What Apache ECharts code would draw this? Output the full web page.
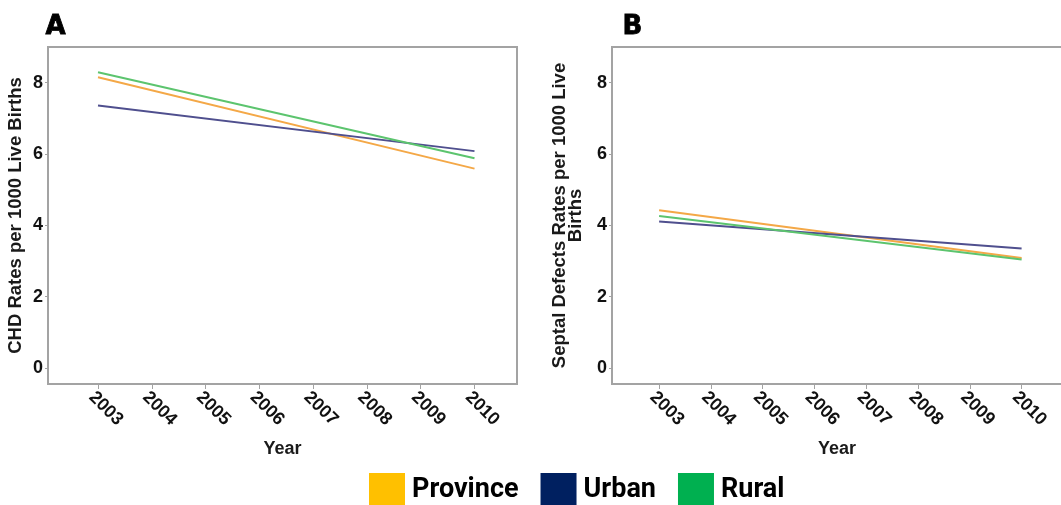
<!DOCTYPE html>
<html>
<head>
<meta charset="utf-8">
<script src="https://cdn.jsdelivr.net/npm/echarts@6/dist/echarts.min.js"></script>
<style>
  html, body { margin: 0; padding: 0; background: #ffffff; }
  #chart { width: 1061px; height: 505px; }
</style>
</head>
<body>
<div id="chart"></div>
<script>
// Fitted trend lines, endpoints at the first and last study year
const fitYears = [2003, 2010];
const yearTicks = [2003, 2004, 2005, 2006, 2007, 2008, 2009, 2010];
const rateTicks = [0, 2, 4, 6, 8];

const seriesNames = ['Province', 'Urban', 'Rural'];

// Panel A: CHD rates per 1000 live births
const chdProvince = [8.15, 5.59];
const chdUrban = [7.36, 6.08];
const chdRural = [8.29, 5.88];

// Panel B: septal defects rates per 1000 live births
const septalProvince = [4.42, 3.08];
const septalUrban = [4.11, 3.35];
const septalRural = [4.26, 3.04];

const lineColors = { Province: '#F4A847', Urban: '#4F4F8E', Rural: '#5CC46E' };
const legendColors = { Province: '#FFC000', Urban: '#002060', Rural: '#00B050' };

const labelFont = 'Liberation Sans, Arial, sans-serif';
const frameColor = '#a3a3a3';

function pairs(xs, ys) {
  return xs.map((x, i) => [x, ys[i]]);
}

function xAxisFor(gridIndex, min, max) {
  return {
    type: 'value',
    gridIndex: gridIndex,
    min: min,
    max: max,
    name: 'Year',
    nameLocation: 'middle',
    nameGap: 56,
    nameMoveOverlap: false,
    nameTextStyle: { fontFamily: labelFont, fontWeight: 'bold', fontSize: 18, color: '#1a1a1a' },
    axisLine: { show: false, onZero: false },
    splitLine: { show: false },
    axisTick: { show: true, length: 5, customValues: yearTicks, lineStyle: { color: frameColor, width: 1 } },
    axisLabel: {
      customValues: yearTicks,
      rotate: -45,
      margin: 4,
      align: 'left',
      verticalAlign: 'top',
      fontFamily: labelFont,
      fontWeight: 'bold',
      fontSize: 18,
      color: '#111',
      formatter: v => String(v)
    }
  };
}

function yAxisFor(gridIndex, name, nameGap) {
  return {
    type: 'value',
    gridIndex: gridIndex,
    min: -0.45,
    max: 9,
    name: name,
    nameLocation: 'middle',
    nameRotate: 90,
    nameGap: nameGap,
    nameMoveOverlap: false,
    nameTextStyle: { fontFamily: labelFont, fontWeight: 'bold', fontSize: 18.5, color: '#1a1a1a', lineHeight: 16, align: 'center' },
    axisLine: { show: false, onZero: false },
    splitLine: { show: false },
    axisTick: { show: true, length: 3, customValues: rateTicks, lineStyle: { color: frameColor, width: 1 } },
    axisLabel: {
      customValues: rateTicks,
      margin: 5,
      fontFamily: labelFont,
      fontWeight: 'bold',
      fontSize: 18,
      color: '#111'
    }
  };
}

function lineSeries(name, axisIndex, values) {
  return {
    name: name,
    type: 'line',
    xAxisIndex: axisIndex,
    yAxisIndex: axisIndex,
    data: pairs(fitYears, values),
    showSymbol: false,
    symbol: 'none',
    silent: true,
    color: lineColors[name],
    lineStyle: { color: lineColors[name], width: 2 }
  };
}

const gridBase = {
  top: 47,
  height: 337,
  show: true,
  borderColor: frameColor,
  borderWidth: 2,
  backgroundColor: 'transparent',
  outerBoundsMode: 'none',
  containLabel: false
};

const option = {
  backgroundColor: '#ffffff',
  animation: false,
  grid: [
    Object.assign({ left: 48, width: 469 }, gridBase),
    Object.assign({ left: 612, width: 450 }, gridBase)
  ],
  xAxis: [
    xAxisFor(0, 2002.07, 2010.79),
    xAxisFor(1, 2002.09, 2010.78)
  ],
  yAxis: [
    yAxisFor(0, 'CHD Rates per 1000 Live Births', 24),
    yAxisFor(1, 'Septal Defects Rates per 1000 Live\nBirths', 28)
  ],
  legend: {
    left: 369,
    top: 473,
    padding: 0,
    icon: 'rect',
    itemWidth: 36,
    itemHeight: 34,
    itemGap: 22,
    selectedMode: false,
    textStyle: { fontFamily: 'Roboto, sans-serif', fontWeight: 'bold', fontSize: 27, color: '#000', padding: [0, 0, 8, 2] },
    data: seriesNames.map(n => ({ name: n, itemStyle: { color: legendColors[n], borderWidth: 0 } }))
  },
  graphic: [
    { type: 'text', left: 45, top: 14, style: { text: 'A', font: '900 26px "DejaVu Sans", sans-serif', fill: '#000', stroke: '#000', lineWidth: 0.8 } },
    { type: 'text', left: 622, top: 14, style: { text: 'B', font: '900 26px "DejaVu Sans", sans-serif', fill: '#000', stroke: '#000', lineWidth: 0.8 } }
  ],
  series: [
    lineSeries('Province', 0, chdProvince),
    lineSeries('Urban', 0, chdUrban),
    lineSeries('Rural', 0, chdRural),
    lineSeries('Province', 1, septalProvince),
    lineSeries('Urban', 1, septalUrban),
    lineSeries('Rural', 1, septalRural)
  ]
};

const chart = echarts.init(document.getElementById('chart'), null, { renderer: 'canvas' });
chart.setOption(option);
</script>
</body>
</html>
